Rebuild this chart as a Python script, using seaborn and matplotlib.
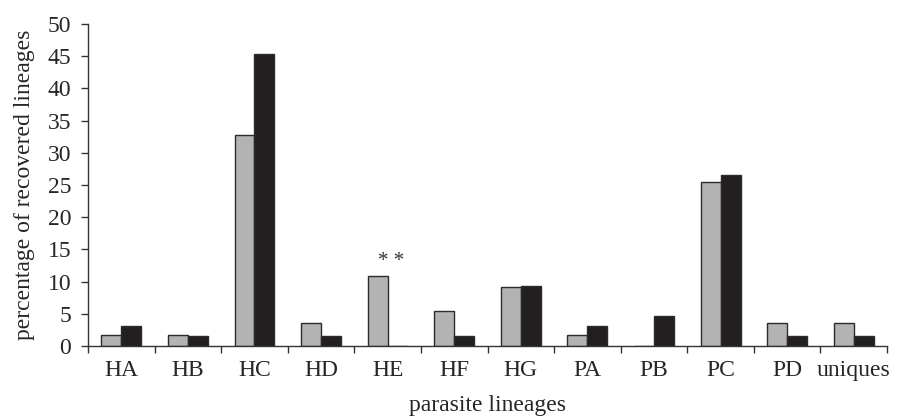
import numpy as np
import pandas as pd
import seaborn as sns
import matplotlib.pyplot as plt

# Data
lineages = ['HA', 'HB', 'HC', 'HD', 'HE', 'HF', 'HG', 'PA', 'PB', 'PC',
            'PD', 'uniques']
group_a = [1.8, 1.8, 32.7, 3.6, 10.9, 5.5, 9.1, 1.8, 0.0, 25.5, 3.6, 3.6]
group_b = [3.1, 1.6, 45.3, 1.6, 0.0, 1.6, 9.4, 3.1, 4.7, 26.6, 1.6, 1.6]
marked = 'HE'

sns.set_style('white')
plt.rcParams['font.family'] = ['Liberation Serif', 'DejaVu Serif']

FS = 17

df = pd.DataFrame({
    'lineage': lineages * 2,
    'value': group_a + group_b,
    'group': ['a'] * len(lineages) + ['b'] * len(lineages),
})

fig = plt.figure(figsize=(9, 4.17), dpi=100)
ax = fig.add_axes([0.0978, 0.170, 0.8878, 0.7724])

sns.barplot(data=df, x='lineage', y='value', hue='group', ax=ax,
            palette={'a': '#b3b3b3', 'b': '#231f20'}, width=0.6,
            edgecolor='#2b2b2b', linewidth=1.0, legend=False,
            saturation=1)

# Excel-like axes: ticks between categories, labels centered
n = len(lineages)
ax.set_xlim(-0.5, n - 0.5)
ax.set_xticks(np.arange(-0.5, n, 1))
ax.set_xticklabels([])
ax.set_xticks(np.arange(n), minor=True)
ax.set_xticklabels(lineages, minor=True, fontsize=FS)
ax.tick_params(axis='x', which='major', direction='out', length=5,
               width=1, color='#333333', bottom=True)
ax.tick_params(axis='x', which='minor', length=0, pad=10)

ax.set_ylim(0, 50)
ax.set_yticks(np.arange(0, 51, 5))
ax.tick_params(axis='y', direction='out', length=5, width=1,
               color='#333333', left=True, labelsize=FS, pad=7)

for side in ['top', 'right']:
    ax.spines[side].set_visible(False)
for side in ['left', 'bottom']:
    ax.spines[side].set_color('#333333')
    ax.spines[side].set_linewidth(1.0)

ax.set_xlabel('parasite lineages', fontsize=FS, labelpad=10)
ax.set_ylabel('percentage of recovered lineages', fontsize=FS, labelpad=9)

# significance marker above the marked lineage
idx = lineages.index(marked)
ax.text(idx + 0.05, group_a[idx] + 2.2, '* *', ha='center', va='center',
        fontsize=15, color='#333333')

fig.savefig('out.png', dpi=100)
